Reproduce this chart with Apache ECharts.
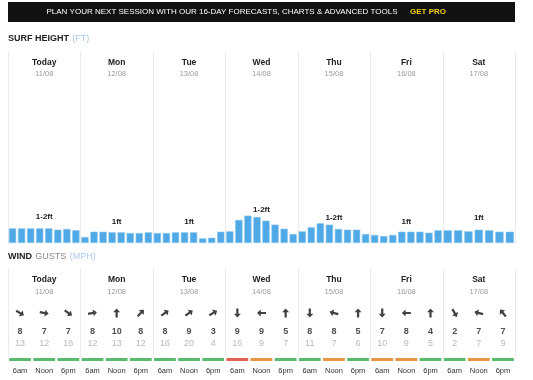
<!DOCTYPE html>
<html><head><meta charset="utf-8">
<script src="https://cdn.jsdelivr.net/npm/echarts@6/dist/echarts.min.js"></script>
<style>html,body{margin:0;padding:0;background:#fff}#c{width:533px;height:380px}</style>
</head><body><div id="c"></div>
<script>
// ---- data ----
const days = ['Today','Mon','Tue','Wed','Thu','Fri','Sat'];
const dates = ['11/08','12/08','13/08','14/08','15/08','16/08','17/08'];
const surfLabels = ['1-2ft','1ft','1ft','1-2ft','1-2ft','1ft','1ft'];
const hours8 = ['00','03','06','09','12','15','18','21'];
const hours7 = ['00','03','06','09','12','15','18'];
const surfToday = [1.22,1.22,1.22,1.22,1.22,1.11,1.17,1.06];
const surfMon   = [0.50,0.94,0.94,0.89,0.89,0.83,0.83,0.89];
const surfTue   = [0.83,0.83,0.89,0.89,0.89,0.39,0.44,0.94];
const surfWed   = [0.97,1.92,2.28,2.17,1.86,1.53,1.19,0.75];
const surfThu   = [0.97,1.31,1.64,1.53,1.17,1.11,1.11,0.75];
const surfFri   = [0.67,0.58,0.67,0.94,0.94,0.94,0.86,1.06];
const surfSat   = [1.06,1.06,0.97,1.11,1.06,0.94,0.94];
const windTimes = ['6am','Noon','6pm'];
const windSpeed = [8,7,7, 8,10,8, 8,9,3, 9,9,5, 8,8,5, 7,8,4, 2,7,7];
const windGust  = [13,12,16, 12,13,12, 16,20,4, 16,9,7, 11,7,6, 10,9,5, 2,7,9];
const windDir   = [120,100,125, 80,0,45, 55,55,60, 180,270,0, 180,285,0, 180,270,0, 150,285,320];
const windRating = ['g','g','g', 'g','g','g', 'g','g','g', 'r','o','g', 'g','o','g', 'o','o','g', 'g','o','g'];

// ---- layout ----
const L = 8, R = 515, colW = (R - L) / 7;
const FONT = 'Liberation Sans';
const surfSeries = [surfToday, surfMon, surfTue, surfWed, surfThu, surfFri, surfSat];
const surfTop = 207, surfH = 36, surfMax = 3;
const surfLabelY = [217, 222, 222, 209.5, 218, 222, 218];
const windTop = 268, windH = 94;
const ROW_ARROW = 45, ROW_SPEED = 64, ROW_GUST = 76, ROW_BAR = 91.5;
const ratingColor = {g:'#2eaa4a', o:'#e07b12', r:'#d93a2b'};

const grids = [], xAxes = [], yAxes = [], series = [], graphics = [];

surfSeries.forEach((vals, d) => {
  grids.push({left: L + d*colW, width: colW, top: surfTop, height: surfH});
  xAxes.push({type:'category', gridIndex:d, data: vals.length === 8 ? hours8 : hours7, show:false});
  yAxes.push({type:'value', gridIndex:d, min:0, max:surfMax, show:false});
  series.push({type:'bar', xAxisIndex:d, yAxisIndex:d, data: vals, barCategoryGap:'20%',
    itemStyle:{color:'#4ea9e6', borderColor:'#86c5ef', borderWidth:0.6}, silent:true});
});

// wind grid
const wi = 7;
const windCats = windSpeed.map((_, i) => windTimes[i % 3]);
grids.push({left: L, width: R - L, top: windTop, height: windH});
xAxes.push({type:'category', gridIndex:wi, data: windCats, axisLine:{show:false}, axisTick:{show:false},
  splitLine:{show:false}, axisLabel:{margin:5, fontSize:7.5, color:'#333', fontFamily:FONT, interval:0}});
yAxes.push({type:'value', gridIndex:wi, min:0, max:windH, inverse:true, show:false});

const arrowPath = 'path://M0,-10 L5,-2 L1.6,-2 L1.6,9 L-1.6,9 L-1.6,-2 L-5,-2 Z';
series.push({type:'scatter', xAxisIndex:wi, yAxisIndex:wi, symbol: arrowPath, symbolSize:[7,9],
  itemStyle:{color:'#111'}, silent:true,
  data: windDir.map((dir, i) => ({value:[i, ROW_ARROW], symbolRotate: -dir}))});
series.push({type:'scatter', xAxisIndex:wi, yAxisIndex:wi, symbolSize:1, itemStyle:{color:'rgba(0,0,0,0)'}, silent:true,
  label:{show:true, position:'inside', formatter: p => p.value[2], fontSize:9, fontWeight:'bold', color:'#222', fontFamily:FONT},
  data: windSpeed.map((v, i) => [i, ROW_SPEED, v])});
series.push({type:'scatter', xAxisIndex:wi, yAxisIndex:wi, symbolSize:1, itemStyle:{color:'rgba(0,0,0,0)'}, silent:true,
  label:{show:true, position:'inside', formatter: p => p.value[2], fontSize:9, color:'#a8a8a8', fontFamily:FONT},
  data: windGust.map((v, i) => [i, ROW_GUST, v])});
series.push({type:'scatter', xAxisIndex:wi, yAxisIndex:wi, symbol:'rect', symbolSize:[21.8, 3], silent:true,
  data: windRating.map((r, i) => ({value:[i, ROW_BAR], itemStyle:{color: ratingColor[r]}}))});

// ---- graphics: banner, headings, separators, day headers ----
graphics.push({type:'rect', shape:{x:L, y:2, width:R-L, height:20}, style:{fill:'#111'}, silent:true});
graphics.push({type:'text', x:222, y:12, style:{text:'PLAN YOUR NEXT SESSION WITH OUR 16-DAY FORECASTS, CHARTS & ADVANCED TOOLS',
  fill:'#fff', font:'8px '+FONT, align:'center', verticalAlign:'middle'}, silent:true});
graphics.push({type:'text', x:428, y:12, style:{text:'GET PRO', fill:'#f2d20f', font:'bold 8px '+FONT, align:'center', verticalAlign:'middle'}, silent:true});

graphics.push({type:'text', x:L, y:39, style:{text:'{a|SURF HEIGHT} {b|(FT)}', verticalAlign:'middle',
  rich:{a:{fontSize:9, fontWeight:'bold', fill:'#222', fontFamily:FONT}, b:{fontSize:9, fill:'#a9c9ee', fontFamily:FONT}}}, silent:true});
graphics.push({type:'text', x:L, y:257, style:{text:'{a|WIND} {c|GUSTS} {b|(MPH)}', verticalAlign:'middle',
  rich:{a:{fontSize:9, fontWeight:'bold', fill:'#222', fontFamily:FONT}, c:{fontSize:9, fill:'#8a8a8a', fontFamily:FONT}, b:{fontSize:9, fill:'#a9c9ee', fontFamily:FONT}}}, silent:true});

for (let k = 0; k <= 7; k++) {
  const x = Math.round(L + k*colW) + 0.5;
  graphics.push({type:'line', shape:{x1:x, y1:51, x2:x, y2:244}, style:{stroke:'#ebebeb', lineWidth:1}, silent:true});
  graphics.push({type:'line', shape:{x1:x, y1:268, x2:x, y2:357}, style:{stroke:'#ebebeb', lineWidth:1}, silent:true});
}
days.forEach((d, i) => {
  const cx = L + (i + 0.5) * colW;
  [[63, 74], [280, 292]].forEach(([yd, yt]) => {
    graphics.push({type:'text', x:cx, y:yd, style:{text:d, font:'bold 8.5px '+FONT, fill:'#222', align:'center', verticalAlign:'middle'}, silent:true});
    graphics.push({type:'text', x:cx, y:yt, style:{text:dates[i], font:'7.5px '+FONT, fill:'#9a9a9a', align:'center', verticalAlign:'middle'}, silent:true});
  });
  graphics.push({type:'text', x:cx, y:surfLabelY[i], style:{text:surfLabels[i], font:'bold 8px '+FONT, fill:'#222', align:'center', verticalAlign:'middle'}, silent:true});
});

const chart = echarts.init(document.getElementById('c'), null, {renderer:'canvas'});
chart.setOption({backgroundColor:'#fff', animation:false, grid:grids, xAxis:xAxes, yAxis:yAxes, series:series, graphic:graphics});
</script></body></html>
